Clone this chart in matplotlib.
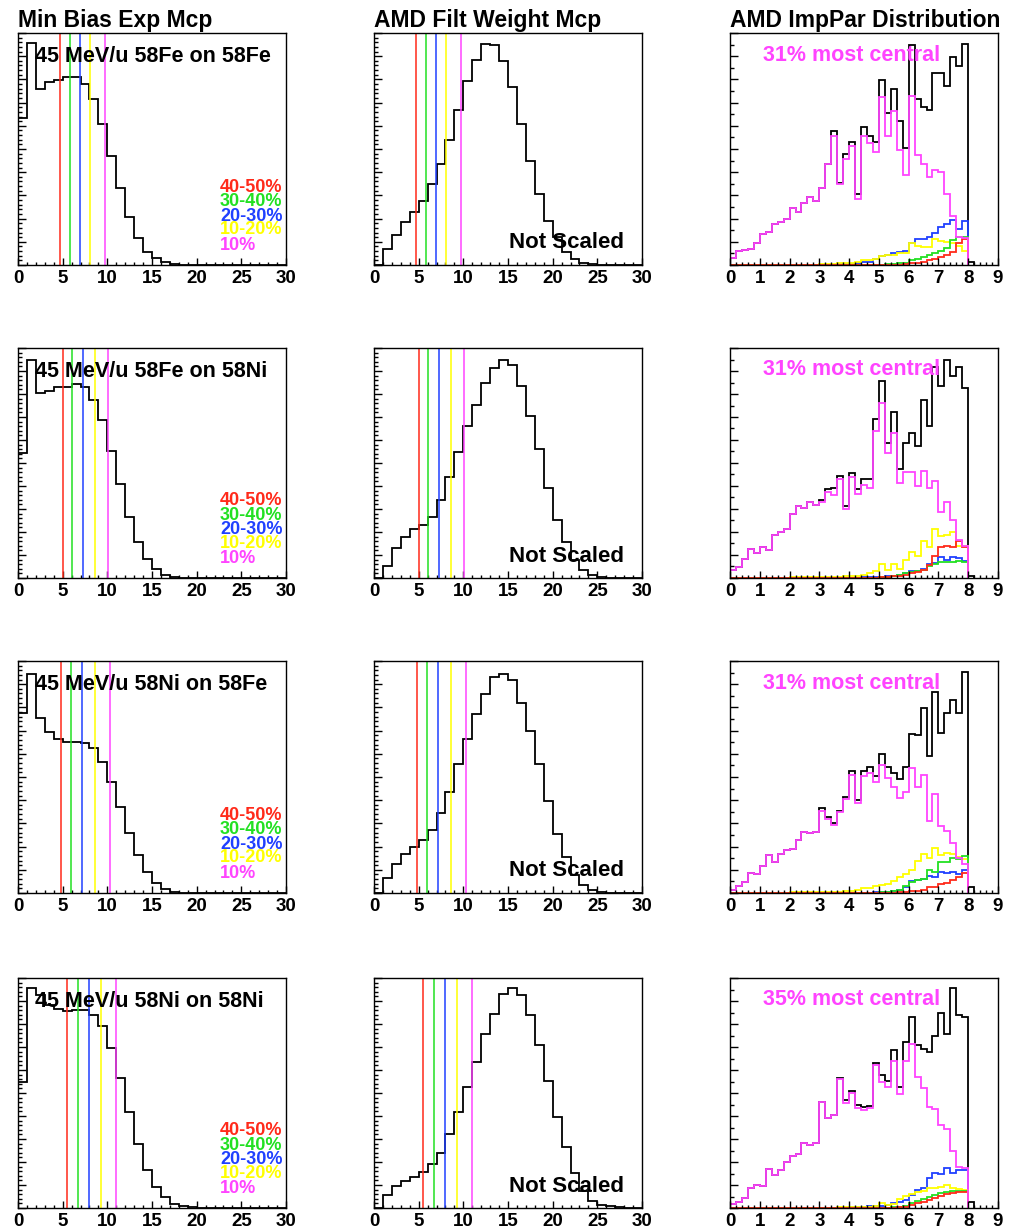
import numpy as np
import matplotlib.pyplot as plt
from matplotlib.ticker import MultipleLocator

plt.rcParams['font.family'] = ['Liberation Sans', 'DejaVu Sans']
plt.rcParams['font.weight'] = 'bold'

# ---- labels ----
systems = ['58Fe on 58Fe', '58Fe on 58Ni', '58Ni on 58Fe', '58Ni on 58Ni']
titles = ['Min Bias Exp Mcp', 'AMD Filt Weight Mcp', 'AMD ImpPar Distribution']
cut_labels = ['40-50%', '30-40%', '20-30%', '10-20%', '10%']
cut_colors = ['#ff2a1a', '#22e022', '#2040ff', '#ffff00', '#ff44ff']
central_text = ['31% most central', '31% most central', '31% most central', '35% most central']

# ---- experimental min-bias Mcp (1-unit bins, 0..30) ----
exp_fefe = [63.3, 95.7, 75.8, 78.7, 79.9, 80.9, 81.0, 78.0, 71.5, 60.7,
            47.0, 33.1, 20.9, 11.5, 5.8, 2.9, 1.2, 0.4, 0.2, 0,
            0, 0, 0, 0, 0, 0, 0, 0, 0, 0]
exp_feni = [54.5, 95.0, 80.5, 81.5, 83.1, 83.1, 84.2, 83.1, 77.6, 68.6,
            55.3, 40.9, 26.7, 15.6, 8.2, 3.9, 1.4, 0.4, 0.2, 0,
            0, 0, 0, 0, 0, 0, 0, 0, 0, 0]
exp_nife = [77.4, 94.6, 75.5, 69.2, 66.2, 65.2, 65.2, 64.8, 62.3, 56.6,
            48.0, 37.2, 25.8, 16.5, 9.0, 4.3, 1.7, 0.6, 0.2, 0,
            0, 0, 0, 0, 0, 0, 0, 0, 0, 0]
exp_nini = [54.9, 95.7, 92.8, 88.2, 86.4, 85.5, 86.0, 86.0, 84.1, 79.2,
            69.4, 56.6, 41.9, 27.7, 16.5, 9.1, 4.6, 1.7, 0.7, 0.3,
            0, 0, 0, 0, 0, 0, 0, 0, 0, 0]

# ---- AMD filtered Mcp (1-unit bins, 0..30) ----
amd_fefe = [0, 6.8, 12.9, 18.7, 23.0, 27.8, 34.8, 43.5, 54.0, 66.9,
            79.1, 88.5, 95.3, 95.0, 88.1, 76.7, 60.9, 45.0, 30.5, 19.0,
            11.9, 5.8, 2.4, 1.0, 0.4, 0.1, 0, 0, 0, 0]
amd_feni = [0, 5.3, 13.0, 17.8, 21.2, 23.1, 26.7, 34.0, 43.8, 54.6,
            66.2, 75.1, 85.0, 91.5, 95.0, 92.8, 83.4, 70.4, 56.1, 39.0,
            25.0, 15.8, 7.9, 3.6, 1.2, 0.4, 0.1, 0, 0, 0]
amd_nife = [0, 6.4, 12.6, 16.8, 19.9, 22.9, 27.2, 34.4, 43.7, 55.4,
            66.2, 77.1, 85.7, 93.1, 94.6, 91.7, 81.9, 69.8, 55.6, 39.7,
            25.4, 15.6, 7.9, 3.6, 1.3, 0.4, 0.1, 0, 0, 0]
amd_nini = [0, 5.8, 9.4, 11.6, 13.4, 15.5, 19.2, 24.1, 32.1, 41.6,
            52.5, 63.3, 75.6, 84.5, 93.2, 95.7, 92.8, 84.1, 70.8, 55.2,
            39.7, 26.7, 15.2, 7.2, 3.2, 1.4, 0.7, 0.3, 0, 0]

# ---- Mcp cut positions (40-50, 30-40, 20-30, 10-20, 10 %) ----
cuts_fefe = [4.7, 5.8, 6.9, 8.1, 9.7]
cuts_feni = [5.0, 6.1, 7.3, 8.6, 10.1]
cuts_nife = [4.8, 5.9, 7.2, 8.6, 10.3]
cuts_nini = [5.5, 6.7, 7.9, 9.3, 11.0]

# ---- AMD impact parameter (0.2 fm bins from 0) ----
b_all_fefe = [2.9, 6.0, 6.5, 6.8, 9.4, 13.4, 14.4, 17.7, 18.7, 19.9,
              24.5, 22.7, 26.6, 29.2, 27.6, 33.1, 43.5, 57.6, 35.5, 47.9,
              53.2, 30.5, 59.4, 55.7, 53.2, 79.6, 65.5, 75.8, 61.9, 50.6,
              94.7, 71.5, 68.1, 66.9, 82.7, 82.7, 77.3, 89.6, 85.6, 95.2, 1.2]
b_mag_fefe = [2.9, 6.0, 6.5, 6.8, 9.4, 13.4, 14.4, 17.7, 18.7, 19.9,
              24.5, 22.7, 26.6, 29.2, 27.6, 33.1, 43.5, 55.7, 35.0, 45.6,
              51.1, 28.5, 55.7, 52.8, 48.5, 72.4, 55.8, 66.2, 49.6, 38.8,
              72.7, 47.5, 43.6, 37.8, 41.0, 40.3, 30.6, 21.2, 12.2, 11.5]
b_blu_fefe = [0, 0, 0, 0, 0, 0, 0, 0, 0, 0,
              0, 0, 0, 0, 0, 0, 0, 0, 0.3, 0.5,
              0.5, 0.8, 1.2, 1.5, 2.5, 4.0, 4.5, 5.0, 5.5, 6.0,
              9.5, 11.0, 11.0, 12.0, 14.0, 16.5, 17.5, 19.5, 15.5, 19.0]
b_yel_fefe = [0, 0, 0, 0, 0, 0, 0, 0, 0, 0,
              0, 0, 0, 0, 0, 0.3, 0.5, 0.5, 0.7, 0.8,
              1.0, 1.5, 2.0, 2.0, 2.5, 4.0, 4.5, 4.5, 5.0, 5.0,
              9.4, 8.2, 7.6, 7.6, 11.0, 10.5, 10.0, 9.4, 8.0, 6.2]
b_grn_fefe = [0, 0, 0, 0, 0, 0, 0, 0, 0, 0,
              0, 0, 0, 0, 0, 0, 0, 0, 0, 0,
              0, 0, 0, 0, 0, 0.2, 0.3, 0.5, 0.8, 1.0,
              2.0, 2.5, 3.5, 4.5, 5.3, 6.0, 7.2, 10.8, 12.0, 12.0]
b_red_fefe = [0, 0, 0, 0, 0, 0, 0, 0, 0, 0,
              0, 0, 0, 0, 0, 0, 0, 0, 0, 0,
              0, 0, 0, 0, 0, 0, 0, 0, 0.2, 0.3,
              0.7, 1.0, 1.4, 2.0, 2.4, 3.6, 4.3, 5.8, 9.4, 11.0]

b_all_feni = [3.3, 4.8, 8.2, 12.6, 10.8, 13.4, 12.3, 18.8, 19.8, 21.2,
              27.9, 31.4, 30.3, 33.2, 31.8, 34.0, 38.7, 39.0, 44.4, 31.1,
              45.8, 38.7, 42.9, 42.9, 69.1, 85.6, 58.8, 72.3, 47.3, 58.8,
              62.9, 57.4, 77.6, 66.0, 91.8, 83.4, 94.9, 87.7, 91.8, 82.4, 0.8]
b_mag_feni = [3.3, 4.8, 8.2, 12.6, 10.8, 13.4, 12.3, 18.8, 19.8, 21.2,
              27.9, 31.4, 30.3, 33.2, 31.8, 33.0, 37.5, 36.0, 43.0, 30.0,
              44.0, 36.5, 40.5, 39.0, 64.0, 76.2, 54.5, 63.2, 41.5, 46.2,
              46.2, 40.0, 46.7, 39.0, 42.3, 28.5, 33.2, 25.0, 16.6, 13.7]
b_blu_feni = [0, 0, 0, 0, 0, 0, 0, 0, 0, 0,
              0, 0, 0, 0, 0, 0, 0, 0, 0, 0,
              0.2, 0.2, 0.3, 0.3, 0.4, 0.5, 0.8, 1.0, 1.5, 2.0,
              3.0, 3.0, 4.0, 6.0, 6.5, 9.0, 8.0, 9.0, 8.5, 7.5]
b_yel_feni = [0, 0, 0, 0, 0, 0, 0, 0, 0, 0,
              0.3, 0.3, 0.3, 0.4, 0.4, 0.5, 0.5, 0.6, 0.6, 0.7,
              0.8, 1.0, 1.5, 2.0, 3.0, 6.2, 3.3, 6.2, 3.9, 7.7,
              11.1, 9.7, 16.3, 13.4, 21.2, 18.3, 18.8, 19.8, 13.7, 14.0]
b_grn_feni = [0, 0, 0, 0, 0, 0, 0, 0, 0, 0,
              0, 0, 0, 0, 0, 0, 0, 0, 0, 0,
              0, 0, 0, 0, 0.2, 0.4, 0.6, 0.8, 1.2, 2.0,
              2.5, 3.0, 3.5, 5.0, 6.0, 7.0, 7.0, 7.0, 7.5, 7.0]
b_red_feni = [0, 0, 0, 0, 0, 0, 0, 0, 0, 0,
              0, 0, 0, 0, 0, 0, 0, 0, 0, 0,
              0, 0, 0, 0, 0.2, 0.3, 0.5, 0.8, 1.0, 1.5,
              2.0, 2.5, 3.5, 5.5, 9.7, 13.4, 14.0, 13.4, 15.9, 13.4]

b_all_nife = [1.4, 2.9, 4.8, 8.7, 8.2, 11.6, 16.3, 13.4, 16.9, 18.4,
              18.8, 22.7, 26.4, 26.0, 26.4, 36.6, 32.8, 30.3, 35.4, 41.5,
              52.7, 40.0, 52.4, 54.2, 50.6, 59.7, 54.2, 51.6, 49.1, 54.2,
              68.4, 67.9, 79.9, 59.2, 86.7, 68.9, 77.6, 83.4, 77.6, 95.4, 2.5]
b_mag_nife = [1.4, 2.9, 4.8, 8.7, 8.2, 11.6, 16.3, 13.4, 16.9, 18.4,
              18.8, 22.7, 26.4, 26.0, 26.4, 35.5, 32.0, 29.5, 35.0, 40.5,
              51.0, 38.6, 50.3, 51.6, 47.7, 55.3, 49.6, 45.5, 40.9, 43.4,
              53.9, 45.5, 51.0, 31.1, 42.6, 28.9, 26.7, 21.4, 15.2, 12.6]
b_blu_nife = [0, 0, 0, 0, 0, 0, 0, 0, 0, 0,
              0, 0, 0, 0, 0, 0, 0, 0, 0, 0,
              0, 0, 0.2, 0.2, 0.3, 0.4, 0.6, 1.0, 1.5, 2.8,
              5.0, 5.5, 6.0, 7.5, 7.0, 9.0, 8.5, 9.0, 8.0, 10.0]
b_yel_nife = [0, 0, 0, 0, 0, 0, 0, 0, 0, 0,
              0.3, 0.3, 0.3, 0.3, 0.4, 0.4, 0.5, 0.5, 0.6, 0.8,
              1.0, 1.2, 2.0, 2.2, 2.9, 3.6, 3.9, 5.0, 6.8, 8.2,
              9.7, 14.0, 16.9, 15.2, 19.2, 16.3, 17.3, 16.9, 15.5, 14.5]
b_grn_nife = [0, 0, 0, 0, 0, 0, 0, 0, 0, 0,
              0, 0, 0, 0, 0, 0, 0, 0, 0, 0,
              0, 0, 0, 0, 0.2, 0.4, 0.6, 1.0, 1.5, 2.9,
              4.8, 5.8, 6.2, 9.7, 9.1, 13.4, 13.4, 15.2, 14.5, 15.9]
b_red_nife = [0, 0, 0, 0, 0, 0, 0, 0, 0, 0,
              0, 0, 0, 0, 0, 0, 0, 0, 0, 0,
              0, 0, 0, 0, 0, 0, 0, 0, 0.3, 0.5,
              0.8, 1.0, 1.5, 2.5, 2.5, 4.0, 4.5, 5.5, 7.0, 8.5]

b_all_nini = [1.7, 2.4, 4.3, 8.9, 10.1, 9.6, 16.8, 14.4, 16.4, 20.1,
              22.6, 23.6, 28.3, 27.6, 28.3, 46.0, 39.1, 40.6, 56.7, 47.0,
              50.9, 44.6, 43.7, 44.2, 62.9, 57.8, 55.4, 68.7, 52.4, 72.3,
              83.0, 70.9, 69.0, 68.0, 74.8, 84.9, 75.5, 95.5, 83.7, 83.0, 2.7]
b_mag_nini = [1.7, 2.4, 4.3, 8.9, 10.1, 9.6, 16.8, 14.4, 16.4, 20.1,
              22.6, 23.6, 28.3, 27.6, 28.3, 46.0, 39.1, 40.6, 56.2, 45.5,
              50.0, 43.5, 42.5, 43.5, 62.0, 55.0, 52.8, 63.9, 49.6, 63.9,
              71.5, 57.1, 52.1, 43.7, 43.2, 36.3, 34.5, 25.0, 17.8, 17.6]
b_blu_nini = [0, 0, 0, 0, 0, 0, 0, 0, 0, 0,
              0, 0, 0, 0, 0, 0, 0, 0, 0, 0,
              0.3, 0.5, 0.5, 0.8, 1.0, 1.0, 1.5, 2.0, 2.5, 3.5,
              5.8, 7.8, 8.6, 13.2, 15.4, 14.9, 17.3, 15.4, 16.4, 16.4]
b_yel_nini = [0, 0, 0, 0, 0, 0, 0, 0, 0, 0,
              0, 0, 0, 0, 0, 0, 0, 0, 0.3, 0.3,
              0.4, 0.4, 0.5, 0.6, 0.8, 2.0, 1.2, 1.7, 3.9, 5.3,
              6.3, 6.8, 7.5, 8.6, 8.8, 9.2, 10.0, 8.6, 8.2, 7.8]
b_grn_nini = [0, 0, 0, 0, 0, 0, 0, 0, 0, 0,
              0, 0, 0, 0, 0, 0, 0, 0, 0, 0,
              0, 0, 0, 0, 0, 0, 0, 0.3, 0.5, 1.0,
              2.0, 3.0, 4.0, 5.0, 5.8, 6.6, 7.0, 7.2, 7.6, 7.6]
b_red_nini = [0, 0, 0, 0, 0, 0, 0, 0, 0, 0,
              0, 0, 0, 0, 0, 0, 0, 0, 0, 0,
              0, 0, 0, 0, 0, 0, 0, 0, 0.3, 0.6,
              1.2, 2.0, 2.5, 3.5, 4.5, 5.2, 6.0, 6.5, 6.8, 7.0]

exp_mcp = [exp_fefe, exp_feni, exp_nife, exp_nini]
amd_mcp = [amd_fefe, amd_feni, amd_nife, amd_nini]
cuts = [cuts_fefe, cuts_feni, cuts_nife, cuts_nini]
b_all = [b_all_fefe, b_all_feni, b_all_nife, b_all_nini]
b_mag = [b_mag_fefe, b_mag_feni, b_mag_nife, b_mag_nini]
b_classes = [  # blue, yellow, green, red
    [b_blu_fefe, b_yel_fefe, b_grn_fefe, b_red_fefe],
    [b_blu_feni, b_yel_feni, b_grn_feni, b_red_feni],
    [b_blu_nife, b_yel_nife, b_grn_nife, b_red_nife],
    [b_blu_nini, b_yel_nini, b_grn_nini, b_red_nini],
]
class_colors = [cut_colors[2], cut_colors[3], cut_colors[1], cut_colors[0]]

# ---- layout (pixels) ----
W, H = 1013, 1232
col_x = [18, 374, 730]
col_w = 268
row_top = [33, 348, 661, 978]
row_bot = [265, 578, 893, 1208]

fig = plt.figure(figsize=(W / 100, H / 100), dpi=100)


def make_ax(col, row):
    top, bot = row_top[row], row_bot[row]
    return fig.add_axes([col_x[col] / W, 1 - bot / H, col_w / W, (bot - top) / H])


def style(ax, xmax, xmajor, xminor, yminor):
    ax.set_xlim(0, xmax)
    ax.set_ylim(0, 100)
    ax.xaxis.set_major_locator(MultipleLocator(xmajor))
    ax.xaxis.set_minor_locator(MultipleLocator(xminor))
    ax.yaxis.set_major_locator(MultipleLocator(10))
    ax.yaxis.set_minor_locator(MultipleLocator(yminor))
    ax.tick_params(which='both', direction='in', top=False, right=False, width=1.0)
    ax.tick_params(axis='x', which='major', length=5, labelsize=13.5, pad=3.5)
    ax.tick_params(axis='x', which='minor', length=2.5)
    ax.tick_params(axis='y', which='major', length=6, labelleft=False)
    ax.tick_params(axis='y', which='minor', length=3)
    for s in ax.spines.values():
        s.set_linewidth(1.0)


def bin_edges(n, width):
    return np.arange(n + 1) * width


for r in range(4):
    # left: experimental
    ax = make_ax(0, r)
    vals = exp_mcp[r]
    ax.stairs(vals, bin_edges(len(vals), 1.0), color='black', lw=1.3, baseline=0)
    for x, c in zip(cuts[r], cut_colors):
        ax.axvline(x, color=c, lw=1.1)
    style(ax, 30, 5, 1, 2)
    ax.text(0.063, 0.897, f'45 MeV/u {systems[r]}', transform=ax.transAxes,
            fontsize=15.5, va='center', ha='left')
    ys = [0.336, 0.272, 0.211, 0.151, 0.086]
    for lab, c, y in zip(cut_labels, cut_colors, ys):
        ax.text(0.754, y, lab, color=c, transform=ax.transAxes,
                fontsize=13, va='center', ha='left')

    # middle: AMD filtered
    ax = make_ax(1, r)
    vals = amd_mcp[r]
    ax.stairs(vals, bin_edges(len(vals), 1.0), color='black', lw=1.3, baseline=0)
    for x, c in zip(cuts[r], cut_colors):
        ax.axvline(x, color=c, lw=1.1)
    style(ax, 30, 5, 1, 2)
    ax.text(0.504, 0.095, 'Not Scaled', transform=ax.transAxes,
            fontsize=16, va='center', ha='left')

    # right: impact parameter
    ax = make_ax(2, r)
    vals = b_all[r]
    ax.stairs(vals, bin_edges(len(vals), 0.2), color='black', lw=1.3, baseline=0)
    for vals, c in zip(b_classes[r], class_colors):
        ax.stairs(vals, bin_edges(len(vals), 0.2), color=c, lw=1.3, baseline=0)
    vals = b_mag[r]
    ax.stairs(vals, bin_edges(len(vals), 0.2), color=cut_colors[4], lw=1.3, baseline=0)
    style(ax, 9, 1, 0.2, 5)
    ax.text(0.123, 0.905, central_text[r], color=cut_colors[4], transform=ax.transAxes,
            fontsize=15.5, va='center', ha='left')

for x, t in zip(col_x, titles):
    fig.text(x / W, 1 - 27 / H, t, fontsize=16.5, va='baseline', ha='left')

plt.savefig('out.png', dpi=100)
plt.close()
